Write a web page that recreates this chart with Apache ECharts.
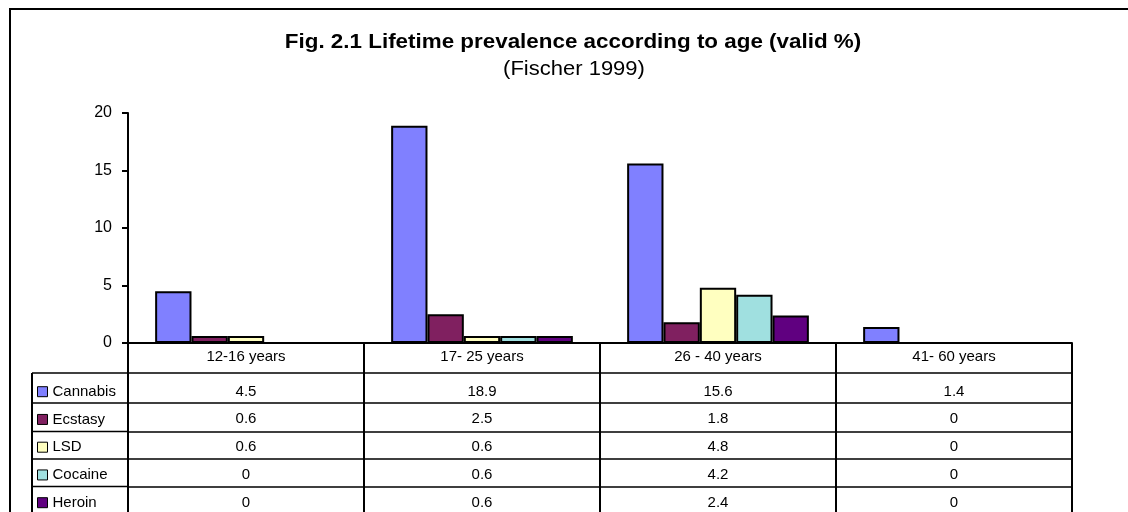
<!DOCTYPE html>
<html>
<head>
<meta charset="utf-8">
<script src="https://cdn.jsdelivr.net/npm/echarts@6/dist/echarts.min.js"></script>
<style>
html,body{margin:0;padding:0;background:#fff;}
#chart{width:1128px;height:512px;}
</style>
</head>
<body>
<div id="chart"></div>
<script>
// ---- data ----
const categories = ['12-16 years', '17- 25 years', '26 - 40 years', '41- 60 years'];
const seriesNames = ['Cannabis', 'Ecstasy', 'LSD', 'Cocaine', 'Heroin'];
const cannabis = [4.5, 18.9, 15.6, 1.4];
const ecstasy = [0.6, 2.5, 1.8, 0];
const lsd = [0.6, 0.6, 4.8, 0];
const cocaine = [0, 0.6, 4.2, 0];
const heroin = [0, 0.6, 2.4, 0];
const yTicks = [0, 5, 10, 15, 20];
const titleText = 'Fig. 2.1 Lifetime prevalence according to age (valid %)';
const subtitleText = '(Fischer 1999)';

// ---- styles / layout ----
const colors = ['#8080FF', '#802060', '#FFFFC0', '#A0E0E0', '#600080'];
const FONT = "'Liberation Sans', Arial, sans-serif";
const W = 1128, H = 512;
const gridLeft = 128, gridRight = 56, gridTop = 113, gridBottom = 169;
const axisY = H - gridBottom;          // 343
const rowLineOffsets = [30, 60, 88.4, 116, 143.4];
const rowLabelMargins = [11, 8.5, 7.5, 8.2, 8.5];
const tableLeft = 32;

const allValues = [cannabis, ecstasy, lsd, cocaine, heroin];

const series = seriesNames.map((name, i) => ({
  name: name,
  type: 'bar',
  xAxisIndex: 0,
  data: allValues[i],
  barGap: '0%',
  barCategoryGap: '23%',
  itemStyle: { color: colors[i], borderColor: '#000', borderWidth: 2 },
  emphasis: { disabled: true },
  silent: true
}));

const xAxes = [{
  type: 'category',
  data: categories,
  position: 'bottom',
  gridIndex: 0,
  axisLine: { show: true, lineStyle: { color: '#000', width: 2 } },
  axisTick: { show: true, inside: false, length: 200, alignWithLabel: false, interval: 0, lineStyle: { color: '#000', width: 2 } },
  axisLabel: { show: true, interval: 0, color: '#000', fontSize: 15, fontFamily: FONT, margin: 6 },
  splitLine: { show: false }
}];
seriesNames.forEach((name, i) => {
  xAxes.push({
    type: 'category',
    data: categories,
    position: 'bottom',
    offset: rowLineOffsets[i],
    gridIndex: 0,
    axisLine: { show: true, lineStyle: { color: '#000', width: 1.5 } },
    axisTick: { show: false },
    axisLabel: {
      show: true, interval: 0, color: '#000', fontSize: 15, fontFamily: FONT,
      margin: rowLabelMargins[i],
      formatter: (v, idx) => String(allValues[i][idx])
    },
    splitLine: { show: false }
  });
});

const graphics = [
  { type: 'rect', shape: { x: 10, y: 9, width: 1300, height: 700 }, style: { fill: 'none', stroke: '#000', lineWidth: 2 }, silent: true, z: 0 },
  { type: 'text', x: 573, y: 42, scaleX: 1.12, style: { text: titleText, font: 'bold 20px ' + FONT, fill: '#000', align: 'center', verticalAlign: 'middle' }, silent: true },
  { type: 'text', x: 574, y: 69, scaleX: 1.1, style: { text: subtitleText, font: '20px ' + FONT, fill: '#000', align: 'center', verticalAlign: 'middle' }, silent: true },
  { type: 'line', shape: { x1: tableLeft, y1: axisY + rowLineOffsets[0], x2: tableLeft, y2: H + 20 }, style: { stroke: '#000', lineWidth: 2 }, silent: true }
];
rowLineOffsets.forEach((off) => {
  graphics.push({ type: 'line', shape: { x1: tableLeft, y1: axisY + off, x2: gridLeft, y2: axisY + off }, style: { stroke: '#000', lineWidth: 1.5 }, silent: true });
});

const chart = echarts.init(document.getElementById('chart'), null, { renderer: 'canvas' });
chart.setOption({
  animation: false,
  backgroundColor: '#fff',
  textStyle: { fontFamily: FONT },
  grid: { left: gridLeft, right: gridRight, top: gridTop, bottom: gridBottom, containLabel: false },
  legend: {
    orient: 'vertical',
    left: 37,
    top: 383.7,
    itemWidth: 10,
    itemHeight: 10,
    itemGap: 11.75,
    icon: 'rect',
    selectedMode: false,
    data: seriesNames,
    itemStyle: { borderColor: '#000', borderWidth: 1 },
    textStyle: { color: '#000', fontSize: 15, fontFamily: FONT, lineHeight: 16, padding: 0 },
    padding: 0
  },
  xAxis: xAxes,
  yAxis: {
    type: 'value',
    min: yTicks[0],
    max: yTicks[yTicks.length - 1],
    interval: yTicks[1] - yTicks[0],
    axisLine: { show: true, lineStyle: { color: '#000', width: 2 } },
    axisTick: { show: true, inside: false, length: 6, lineStyle: { color: '#000', width: 2 } },
    axisLabel: { color: '#000', fontSize: 16, fontFamily: FONT, margin: 16 },
    splitLine: { show: false }
  },
  series: series,
  graphic: graphics
});
</script>
</body>
</html>
